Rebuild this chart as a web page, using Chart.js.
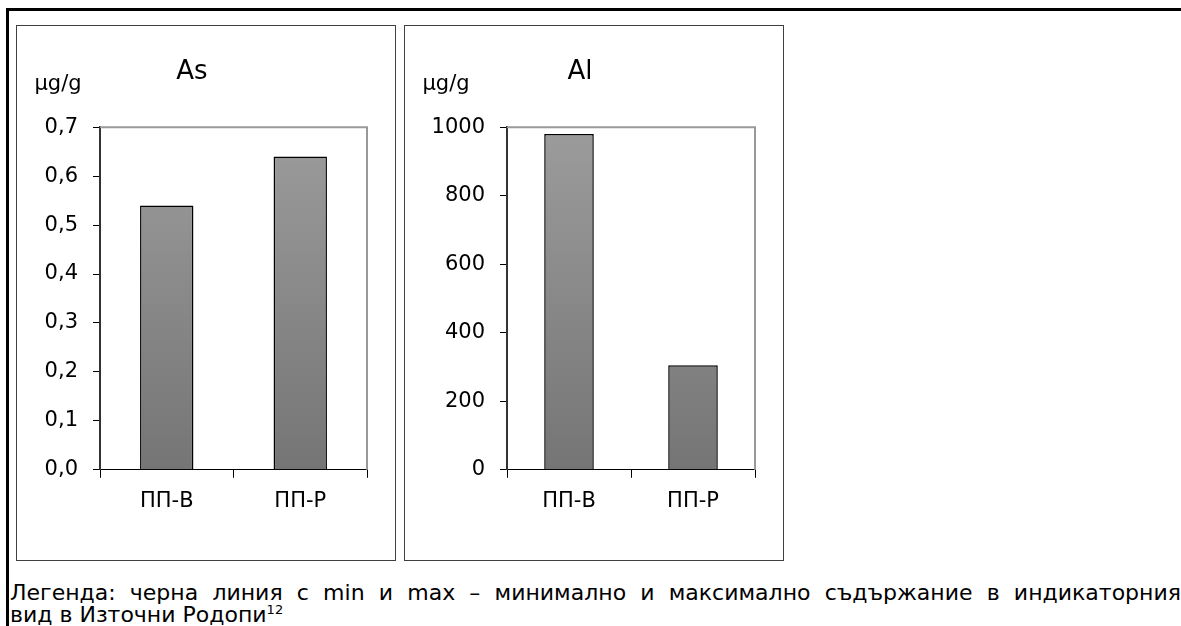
<!DOCTYPE html>
<html>
<head>
<meta charset="utf-8">
<script src="https://cdn.jsdelivr.net/npm/chart.js@4"></script>
<style>
  body{margin:0;background:#fff;width:1181px;height:626px;overflow:hidden;position:relative;font-family:"DejaVu Sans",sans-serif}
  .frame{position:absolute;left:6px;top:8px;width:1200px;height:640px;border-left:3px solid #000;border-top:3px solid #000}
  .panel{position:absolute;top:25px;width:378px;height:534px;border:1px solid #404040}
  .panel canvas{display:block}
  .legend{position:absolute;left:10px;width:1171px;font-size:22px;line-height:22px;color:#000;white-space:nowrap}
  .l1{top:582px;text-align:justify;text-align-last:justify;white-space:normal}
  .l2{top:604px}
  .legend sup{font-size:13px;line-height:0;vertical-align:8px}
</style>
</head>
<body>
<div class="frame"></div>
<div class="panel" style="left:16px"><canvas id="chartAs" width="378" height="534"></canvas></div>
<div class="panel" style="left:404px"><canvas id="chartAl" width="378" height="534"></canvas></div>
<div class="legend l1">Легенда: черна линия с min и max – минимално и максимално съдържание в индикаторния</div>
<div class="legend l2">вид в Източни Родопи<sup>12</sup></div>
<script>
const categories = ['ПП-В', 'ПП-Р'];
const asValues = [0.54, 0.64];
const alValues = [980, 305];
const asTicks = {min: 0, max: 0.7, step: 0.1};
const alTicks = {min: 0, max: 1000, step: 200};

const fontFam = '"DejaVu Sans",sans-serif';

// gray border on top and right of the plot area, unit label above the axis
const framePlugin = {
  id: 'frame',
  afterDraw(chart, args, opts) {
    const a = chart.chartArea;
    const c = chart.ctx;
    c.save();
    c.strokeStyle = '#999';
    c.lineWidth = 2;
    c.beginPath();
    c.moveTo(a.left, a.top);
    c.lineTo(a.right, a.top);
    c.lineTo(a.right, a.bottom);
    c.stroke();
    c.fillStyle = '#000';
    c.font = '21px ' + fontFam;
    c.textAlign = 'center';
    c.textBaseline = 'middle';
    c.fillText(opts.unit, 41, 59);
    c.restore();
  }
};

function barFill(context) {
  const chart = context.chart;
  const a = chart.chartArea;
  if (!a) return '#888';
  const g = chart.ctx.createLinearGradient(0, a.top, 0, a.bottom);
  g.addColorStop(0, '#9c9c9c');
  g.addColorStop(1, '#757575');
  return g;
}

function makeChart(id, title, values, t, axisWidth, fmt) {
  return new Chart(document.getElementById(id), {
    type: 'bar',
    data: {
      labels: categories,
      datasets: [{
        data: values,
        backgroundColor: barFill,
        borderColor: '#000',
        borderWidth: 1.5,
        borderSkipped: 'bottom',
        barPercentage: 0.4,
        categoryPercentage: 1
      }]
    },
    options: {
      responsive: false,
      animation: false,
      layout: {padding: {top: 0, right: 28, bottom: 35, left: 0}},
      plugins: {
        legend: {display: false},
        tooltip: {enabled: false},
        title: {
          display: true,
          text: title,
          color: '#000',
          font: {family: fontFam, size: 26, weight: 'normal'},
          padding: {top: 31, bottom: 39}
        },
        frame: {unit: 'μg/g'}
      },
      scales: {
        x: {
          grid: {display: true, drawOnChartArea: false, offset: true, tickLength: 8, color: '#000'},
          border: {color: '#000', width: 1},
          ticks: {color: '#000', font: {family: fontFam, size: 21}, padding: 11}
        },
        y: {
          min: t.min,
          max: t.max,
          afterFit(scale) { scale.width = axisWidth; },
          grid: {display: true, drawOnChartArea: false, tickLength: 7, color: '#000'},
          border: {color: '#333', width: 2},
          ticks: {
            stepSize: t.step,
            color: '#000',
            font: {family: fontFam, size: 21},
            padding: 15,
            callback: fmt
          }
        }
      }
    },
    plugins: [framePlugin]
  });
}

makeChart('chartAs', 'As', asValues, asTicks, 83, v => v.toFixed(1).replace('.', ','));
makeChart('chartAl', 'Al', alValues, alTicks, 102, v => String(v));
</script>
</body>
</html>
